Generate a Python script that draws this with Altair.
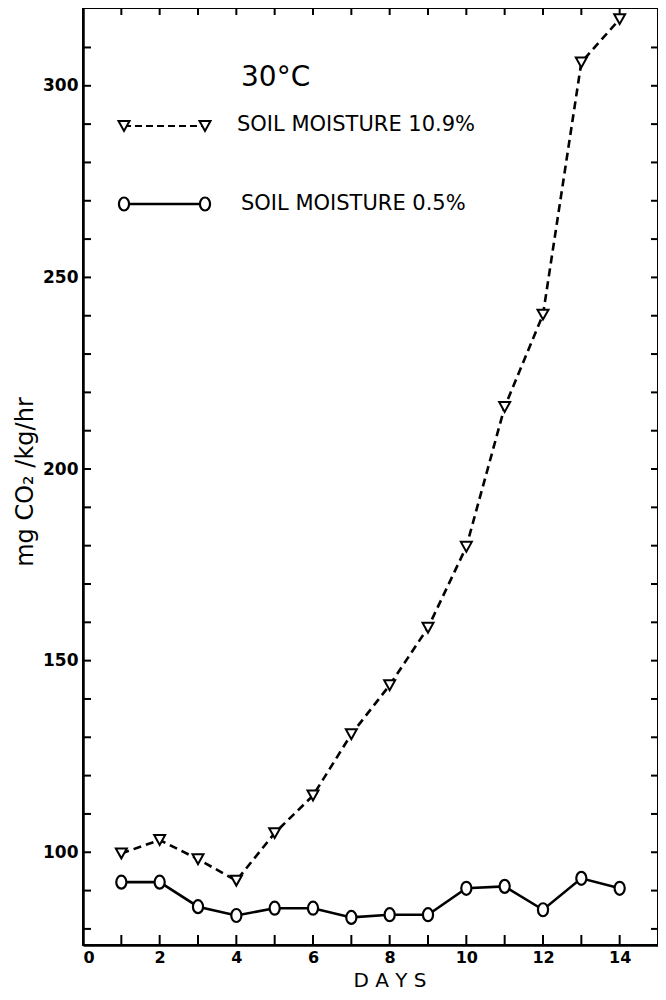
import altair as alt
import pandas as pd

# ---- data ----
days = list(range(1, 15))
moist_109 = [99.7, 103.2, 98.2, 92.6, 105.0, 114.8, 130.8, 143.6, 158.6, 179.7, 216.2, 240.3, 306.1, 317.4]
moist_05 = [92.2, 92.2, 85.8, 83.5, 85.4, 85.4, 83.0, 83.7, 83.7, 90.6, 91.1, 85.0, 93.2, 90.6]

x_tick_labels = [0, 2, 4, 6, 8, 10, 12, 14]
x_minor_ticks = list(range(1, 15))
y_tick_labels = [100, 150, 200, 250, 300]
y_minor_ticks = list(range(80, 320, 10))

legend_labels = ["SOIL MOISTURE 10.9%", "SOIL MOISTURE 0.5%"]
panel_title = "30°C"
x_title = "D A Y S"
y_title = "mg  CO₂ /kg/hr"

# ---- layout ----
W, H = 575, 937
FONT = "DejaVu Sans"
TRI = "M-1,-0.9L1,-0.9L0,0.9Z"
ELL = "M-0.78,0A0.78,1,0,1,0,0.78,0A0.78,1,0,1,0,-0.78,0"

xscale = alt.Scale(domain=[0, 15], nice=False, zero=False)
yscale = alt.Scale(domain=[75.8, 320.3], nice=False, zero=False)

df_a = pd.DataFrame({"day": days, "v": moist_109})
df_b = pd.DataFrame({"day": days, "v": moist_05})
df_xt = pd.DataFrame({"day": x_minor_ticks})
df_yt = pd.DataFrame({"v": y_minor_ticks})
one = pd.DataFrame({"k": [0]})

x_axis = alt.Axis(values=x_tick_labels, tickSize=0, labelPadding=4, grid=False,
                  domainWidth=2.5, domainColor="black", labelFont=FONT,
                  labelFontSize=16, labelFontWeight="bold", labelColor="black", title=None)
y_axis = alt.Axis(values=y_tick_labels, tickSize=0, labelPadding=5, grid=False,
                  domainWidth=2.5, domainColor="black", labelFont=FONT,
                  labelFontSize=17, labelFontWeight="bold", labelColor="black", title=None)

X = alt.X("day:Q", scale=xscale, axis=x_axis)
Y = alt.Y("v:Q", scale=yscale, axis=y_axis)

line_a = alt.Chart(df_a).mark_line(color="black", strokeWidth=2.6, strokeDash=[8, 5]).encode(x=X, y=Y)
pts_a = alt.Chart(df_a).mark_point(shape=TRI, size=121, filled=True, fill="white",
                                   stroke="black", strokeWidth=2, opacity=1).encode(x=X, y=Y)
line_b = alt.Chart(df_b).mark_line(color="black", strokeWidth=2.6).encode(x=X, y=Y)
pts_b = alt.Chart(df_b).mark_point(shape=ELL, size=169, filled=True, fill="white",
                                   stroke="black", strokeWidth=2.2, opacity=1).encode(x=X, y=Y)

# inward ticks
tick_left = alt.Chart(df_yt).mark_rule(color="black", strokeWidth=2).encode(
    y=Y, x=alt.value(0), x2=alt.value(8))
tick_right = alt.Chart(df_yt).mark_rule(color="black", strokeWidth=2).encode(
    y=Y, x=alt.value(W - 7), x2=alt.value(W))
tick_bottom = alt.Chart(df_xt).mark_rule(color="black", strokeWidth=2).encode(
    x=X, y=alt.value(H - 10), y2=alt.value(H))
tick_top = alt.Chart(df_xt).mark_rule(color="black", strokeWidth=2).encode(
    x=X, y=alt.value(0), y2=alt.value(7))

# in-plot legend
L1, L2 = 118, 196
LX1, LX2 = 41, 122
leg_line_a = alt.Chart(one).mark_rule(color="black", strokeWidth=2.2, strokeDash=[7, 4]).encode(
    x=alt.value(LX1), x2=alt.value(LX2), y=alt.value(L1))
leg_line_b = alt.Chart(one).mark_rule(color="black", strokeWidth=2.6).encode(
    x=alt.value(LX1), x2=alt.value(LX2), y=alt.value(L2))
leg_pts = []
for lx in (LX1, LX2):
    leg_pts.append(alt.Chart(one).mark_point(shape=TRI, size=121, filled=True, fill="white",
                                             stroke="black", strokeWidth=2, opacity=1).encode(
        x=alt.value(lx), y=alt.value(L1)))
    leg_pts.append(alt.Chart(one).mark_point(shape=ELL, size=169, filled=True, fill="white",
                                             stroke="black", strokeWidth=2.2, opacity=1).encode(
        x=alt.value(lx), y=alt.value(L2)))
leg_txt_a = alt.Chart(one).mark_text(align="left", baseline="middle", font=FONT, fontSize=21,
                                     color="black", text=legend_labels[0]).encode(
    x=alt.value(154), y=alt.value(L1 - 1))
leg_txt_b = alt.Chart(one).mark_text(align="left", baseline="middle", font=FONT, fontSize=21,
                                     color="black", text=legend_labels[1]).encode(
    x=alt.value(158), y=alt.value(L2))
title_txt = alt.Chart(one).mark_text(align="left", baseline="middle", font=FONT, fontSize=28,
                                     color="black", text=panel_title).encode(
    x=alt.value(158), y=alt.value(70))

# axis titles
xt = alt.Chart(one).mark_text(align="center", baseline="alphabetic", font=FONT, fontSize=20,
                              color="black", text=x_title).encode(
    x=alt.value(307), y=alt.value(H + 41.5))
yt = alt.Chart(one).mark_text(align="center", baseline="middle", font=FONT, fontSize=24,
                              angle=270, color="black", text=y_title).encode(
    x=alt.value(-57), y=alt.value(474))

chart = alt.layer(
    line_a, line_b, pts_a, pts_b,
    tick_left, tick_right, tick_bottom, tick_top,
    leg_line_a, leg_line_b, *leg_pts, leg_txt_a, leg_txt_b, title_txt,
    xt, yt,
).properties(
    width=W, height=H,
    padding={"left": 75, "top": 0, "right": 0, "bottom": 47},
    autosize=alt.AutoSizeParams(type="none"),
    background="white",
).configure_view(stroke="black", strokeWidth=2)

chart.save("out.html", embed_options={"renderer": "svg", "actions": False})
